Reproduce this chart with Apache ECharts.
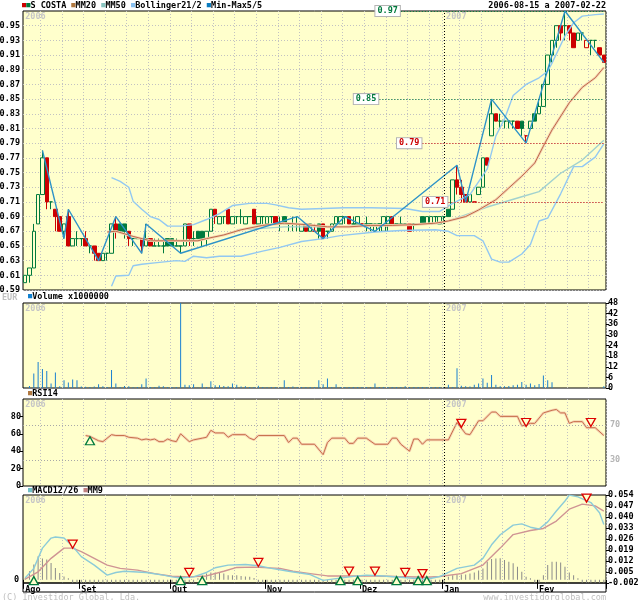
<!DOCTYPE html>
<html><head><meta charset="utf-8">
<script src="https://cdn.jsdelivr.net/npm/echarts@6/dist/echarts.min.js"></script>
<style>html,body{margin:0;padding:0;background:#fff}#c{width:640px;height:600px}</style>
</head><body><div id="c"></div>
<script>
// ---- trading days (day-of-month per month) ----
const augDays = [15,16,17,18,21,22,23,24,25,28,29,30,31];
const sepDays = [1,4,5,6,7,8,11,12,13,14,15,18,19,20,21,22,25,26,27,28,29];
const octDays = [2,3,4,5,6,9,10,11,12,13,16,17,18,19,20,23,24,25,26,27,30,31];
const novDays = [1,2,3,6,7,8,9,10,13,14,15,16,17,20,21,22,23,24,27,28,29,30];
const decDays = [1,4,5,6,7,8,11,12,13,14,15,18,19,20,21,22,27,28,29];
const janDays = [2,3,4,5,8,9,10,11,12,15,16,17,18,19,22,23,24,25,26,29,30,31];
const febDays = [1,2,5,6,7,8,9,12,13,14,15,16,19,20,21,22];
const monthNames = ['Jan','Fev','Mar','Abr','Mai','Jun','Jul','Ago','Set','Out','Nov','Dez'];

// ---- prices ----
const opens = [.60,.61,.62,.68,.72,.77,.71,.70,.69,.67, .69,.65,.66,.66,.66,.65,.65,.64,.63,.64,
 .64,.68,.68,.68,.67,.66,.66,.66,.65,.66, .65,.65,.65,.66,.66,.65,.65,.65,.68,.66,
 .67,.67,.66,.67,.70,.68,.69,.70,.68,.69, .69,.68,.69,.70,.68,.69,.68,.69,.69,.68,
 .69,.68,.68,.68,.67,.68,.67,.67,.68,.68, .67,.67,.68,.68,.69,.69,.68,.68,.68,.68,
 .68,.67,.68,.67,.68,.69,.68,.68,.68,.68, .68,.68,.69,.68,.68,.69,.68,.69,.70,.70,
 .74,.73,.72,.71,.71,.72,.73,.77,.80,.83, .82,.82,.82,.82,.82,.82,.80,.81,.83,.83,
 .84,.87,.91,.93,.95,.95,.95,.94,.93,.94, .92,.93,.93,.92,.91];
const closes = [.61,.62,.67,.72,.77,.71,.71,.69,.67,.68, .65,.66,.66,.66,.65,.65,.64,.63,.64,.64,
 .68,.67,.67,.67,.66,.66,.66,.65,.66,.65, .65,.65,.65,.65,.65,.65,.65,.68,.66,.66,
 .66,.66,.67,.70,.69,.69,.69,.68,.69,.69, .69,.69,.69,.68,.69,.69,.69,.69,.68,.68,
 .68,.68,.68,.68,.68,.67,.68,.67,.67,.66, .67,.68,.69,.69,.69,.68,.68,.69,.68,.68,
 .68,.68,.68,.69,.69,.68,.68,.68,.68,.67, .68,.68,.68,.69,.69,.69,.69,.69,.69,.74,
 .73,.72,.71,.72,.71,.73,.77,.76,.83,.82, .82,.82,.82,.82,.81,.81,.80,.82,.82,.84,
 .87,.91,.93,.95,.94,.95,.94,.92,.94,.94, .93,.93,.93,.91,.90];
const lows = [.60,.60,.62,.68,.72,.70,.70,.67,.67,.66, .65,.65,.65,.65,.65,.64,.63,.63,.63,.63,
 .64,.66,.67,.66,.65,.65,.66,.64,.65,.65, .65,.65,.64,.65,.65,.65,.64,.65,.65,.65,
 .66,.65,.65,.67,.68,.68,.68,.68,.68,.68, .68,.68,.69,.68,.68,.68,.68,.68,.68,.67,
 .68,.67,.67,.67,.67,.67,.67,.67,.66,.66, .66,.67,.68,.68,.68,.68,.68,.68,.68,.67,
 .67,.67,.67,.67,.67,.68,.68,.68,.68,.67, .67,.68,.68,.68,.68,.68,.68,.68,.69,.70,
 .72,.71,.71,.71,.71,.72,.73,.76,.80,.82, .81,.81,.81,.81,.81,.80,.79,.81,.82,.83,
 .84,.87,.90,.92,.93,.93,.93,.92,.93,.93, .92,.91,.92,.91,.90];
const highs = [.61,.62,.68,.72,.78,.77,.71,.70,.69,.68, .70,.66,.67,.66,.67,.65,.65,.64,.64,.64,
 .68,.69,.68,.68,.67,.66,.66,.66,.68,.66, .66,.66,.66,.66,.66,.66,.65,.68,.68,.67,
 .67,.67,.67,.70,.70,.69,.69,.70,.69,.69, .70,.69,.69,.70,.69,.69,.69,.69,.69,.69,
 .69,.68,.69,.69,.68,.68,.68,.68,.68,.68, .67,.68,.69,.69,.69,.69,.69,.69,.68,.69,
 .68,.68,.68,.69,.69,.69,.68,.69,.68,.68, .68,.68,.69,.69,.69,.69,.69,.69,.70,.74,
 .76,.74,.72,.72,.71,.73,.77,.77,.85,.83, .83,.82,.82,.82,.82,.82,.80,.82,.83,.85,
 .87,.91,.93,.95,.95,.97,.95,.94,.94,.94, .93,.93,.93,.92,.91];
const priceTicks = [0.59,0.61,0.63,0.65,0.67,0.69,0.71,0.73,0.75,0.77,0.79,0.81,0.83,0.85,0.87,0.89,0.91,0.93,0.95];

// ---- overlays: [day index, value] ----
const mm20Pts = [[19,.669],[21,.670],[25,.663],[29,.657],[32,.657],[36,.657],[40,.657],[42,.660],[46,.665],[50,.672],[55,.678],[60,.681],[65,.679],[70,.676],[75,.676],[80,.678],[85,.678],[90,.679],[95,.681],[98,.684],[102,.690],[105,.699],[109,.713],[112,.729],[115,.745],[118,.763],[120,.786],[122,.808],[126,.845],[129,.866],[132,.879],[134,.893]];
const mm50Pts = [[49,.672],[55,.674],[60,.676],[70,.676],[80,.677],[90,.679],[96,.681],[99,.686],[107,.703],[115,.717],[119,.724],[124,.749],[129,.767],[134,.794]];
const bollUpPts = [[20,.743],[22,.738],[24,.730],[25,.711],[27,.700],[29,.690],[31,.686],[33,.677],[36,.677],[39,.679],[42,.686],[45,.694],[48,.705],[52,.708],[56,.708],[58,.706],[61,.702],[64,.700],[69,.701],[74,.702],[80,.702],[88,.701],[92,.697],[96,.697],[99,.708],[103,.720],[107,.755],[109,.800],[111,.823],[113,.855],[116,.870],[119,.879],[121,.888],[122,.899],[125,.936],[127,.954],[129,.963],[132,.965],[134,.966]];
const bollLoPts = [[20,.595],[21,.609],[24,.610],[25,.623],[27,.625],[30,.627],[35,.630],[37,.629],[39,.636],[42,.634],[45,.636],[50,.636],[55,.643],[59,.648],[64,.656],[69,.660],[73,.664],[81,.669],[87,.671],[95,.672],[98,.670],[100,.664],[104,.664],[106,.657],[108,.632],[110,.628],[112,.628],[115,.639],[117,.652],[119,.684],[121,.688],[124,.721],[127,.758],[129,.758],[132,.771],[134,.789]];
const zigzagPts = [[4,.78],[9,.66],[10,.70],[17,.63],[21,.69],[27,.64],[28,.68],[36,.64],[63,.69],[69,.66],[74,.69],[81,.67],[100,.76],[102,.71],[108,.85],[116,.79],[125,.97],[134,.90]];

// ---- volume (millions) ----
const volumes = [0.3,1.1,8.2,14.7,10.7,9.6,2.5,8.8,1.0,4.4, 3.1,4.8,4.4,0.8,0.7,0.6,0.9,2.1,1.0,0.5,
 10.1,2.5,0.5,1.1,1.0,0.4,0.5,2.1,5.4,0.5, 0.5,1.3,1.0,0.6,0.5,0.5,48,1.9,1.5,2.1,
 0.3,2.5,0.5,3.8,1.5,1.5,1.1,1.0,2.5,1.9, 0.8,1.0,0.5,0.5,1.3,0.5,0.4,0.5,0.5,0.4,
 4.4,0.5,0.8,0.5,0.5,0.5,0.6,0.5,4.4,2.1, 5.4,0.5,2.1,0.5,0.5,0.6,0.5,0.6,0.5,0.5,
 0.5,2.5,0.5,0.6,0.5,0.6,0.5,0.5,1.0,0.5, 0.6,0.5,0.5,0.6,0.5,0.5,0.5,0.5,1.9,0.5,
 11.1,1.3,1.0,0.8,1.9,2.5,5.4,2.9,7.3,1.9, 1.0,1.0,1.1,1.5,1.9,3.4,1.9,2.5,1.5,2.3,
 7.1,4.4,3.3,0,0,0,0,0,0,0, 0,0,0,0,1.0];

// ---- RSI14 ----
const rsiPts = [[14,58],[15,57],[17,52],[18,51],[20,59],[21,58],[23,58],[24,56],[26,55],[27,53],[28,54],[29,53],[30,54],[31,51],[32,51],[33,54],[34,52],[35,51],[36,60],[38,51],[39,53],[41,55],[42,56],[43,64],[44,61],[46,61],[47,56],[48,59],[51,59],[52,55],[53,53],[54,58],[60,58],[61,50],[62,55],[63,55],[64,48],[67,48],[69,36],[70,50],[71,55],[74,55],[75,49],[76,49],[77,55],[79,55],[81,48],[84,48],[85,55],[86,55],[87,48],[89,40],[90,54],[91,54],[92,48],[93,53],[98,53],[100,73],[102,60],[103,59],[105,75],[106,75],[108,85],[109,85],[110,80],[114,80],[115,69],[117,72],[118,72],[120,84],[122,87],[123,88],[124,84],[125,84],[126,72],[127,74],[129,74],[130,67],[132,67],[134,58]];
const rsiTicks = [0,20,40,60,80];
const rsiBuy = [[15,52]];
const rsiSell = [[101,72],[116,73],[131,73]];

// ---- MACD 12/26 and MM9 ----
const macdPts = [[0,.0012],[2,.0073],[4,.0202],[6,.0266],[7,.0273],[9,.0266],[11,.0213],[13,.0148],[16,.0094],[19,.0030],[21,.0047],[23,.0055],[28,.0047],[32,.0030],[34,.0019],[36,.0012],[39,.0019],[42,.0047],[44,.0077],[47,.0094],[51,.0098],[54,.0090],[57,.0073],[61,.0055],[66,.0034],[69,-.0003],[72,.0008],[77,.0025],[79,.0030],[83,.0025],[89,.0012],[93,.0004],[96,.0021],[98,.0047],[100,.0073],[104,.0094],[106,.0137],[108,.0223],[110,.0287],[113,.0348],[115,.0356],[117,.0335],[119,.0324],[121,.0369],[123,.0438],[125,.0502],[126,.0539],[128,.0528],[131,.0492],[133,.0427],[134,.0352]];
const signalPts = [[0,.0004],[3,.0051],[6,.0137],[9,.0202],[11,.0202],[13,.0180],[16,.0137],[19,.0094],[22,.0073],[26,.0062],[30,.0040],[34,.0023],[38,.0019],[42,.0025],[46,.0055],[49,.0079],[53,.0081],[59,.0073],[62,.0055],[66,.0040],[70,.0025],[76,.0025],[81,.0025],[86,.0021],[93,.0017],[96,.0021],[101,.0040],[106,.0094],[110,.0202],[113,.0288],[117,.0314],[120,.0327],[123,.0374],[126,.0450],[129,.0482],[132,.0471],[134,.0438]];
const histogram = [0.0010,0.0054,0.0097,0.0150,0.0136,0.0129,0.0108,0.0075,0.0043,0.0022,
 0.0010,-0.0018,-0.0018,-0.0018,-0.0018,-0.0018,-0.0018,-0.0018,-0.0018,-0.0018,
 -0.0018,-0.0018,-0.0018,-0.0018,-0.0018,-0.0018,-0.0018,-0.0018,-0.0018,-0.0018,
 -0.0018,-0.0018,-0.0018,-0.0018,-0.0018,-0.0018,-0.0018,-0.0018,-0.0018,-0.0018,
 0.0010,0.0025,0.0040,0.0047,0.0047,0.0047,0.0040,0.0030,0.0030,0.0030,
 0.0025,0.0022,0.0019,0.0012,-0.0018,-0.0018,-0.0018,-0.0018,-0.0018,-0.0018,
 -0.0018,-0.0018,-0.0018,-0.0018,-0.0018,-0.0018,-0.0018,-0.0018,-0.0018,-0.0018,
 -0.0018,-0.0018,-0.0018,-0.0018,-0.0018,-0.0018,-0.0018,-0.0018,-0.0018,-0.0018,
 -0.0018,-0.0018,-0.0018,-0.0018,-0.0018,-0.0018,-0.0018,-0.0018,-0.0018,-0.0018,
 -0.0018,-0.0018,-0.0018,-0.0018,-0.0018,-0.0018,-0.0018,-0.0018,0.0020,0.0030,
 0.0034,0.0034,0.0034,0.0040,0.0047,0.0060,0.0073,0.0115,0.0133,0.0136,
 0.0137,0.0126,0.0115,0.0105,0.0083,0.0051,0.0019,0.0010,-0.0018,-0.0018,
 0.0030,0.0094,0.0115,0.0115,0.0111,0.0083,0.0047,0.0030,0.0010,-0.0018,
 -0.0018,-0.0018,-0.0018,-0.0018,-0.0018];
const macdTicks = [-0.002,0.005,0.012,0.019,0.026,0.033,0.040,0.047,0.054];
const macdBuy = [[2,-0.0005],[36,-0.0005],[41,-0.0005],[73,-0.0005],[77,-0.0005],[86,-0.0005],[91,-0.0005],[93,-0.0005]];
const macdSell = [[11,.0227],[38,.0047],[54,.0111],[75,.0055],[81,.0055],[88,.0047],[92,.0040],[130,.0520]];

// ---------- build ----------
const monthBlocks = [[2006,8,augDays],[2006,9,sepDays],[2006,10,octDays],[2006,11,novDays],[2006,12,decDays],[2007,1,janDays],[2007,2,febDays]];
const cats = [], dows = [], mons = [];
monthBlocks.forEach(([y,m,days]) => days.forEach(d => {
  cats.push(y + '-' + String(m).padStart(2,'0') + '-' + String(d).padStart(2,'0'));
  dows.push(new Date(y, m-1, d).getDay()); mons.push(m);
}));
const monthStart = cats.map((_, i) => i === 0 || mons[i] !== mons[i-1]);
const vLine = cats.map((_, i) => i > 0 && dows[i] < dows[i-1]);
const JAN_IDX = cats.indexOf('2007-01-02');

const BG = '#ffffcc', GREEN = '#007a3d', RED = '#cc0000';
const FONT = 'DejaVu Sans Mono';
const T = (extra) => Object.assign({fontFamily: FONT, fontSize: 8.5, fontWeight: 'bold', color: '#000'}, extra || {});

const candleData = cats.map((_, i) => {
  const o = opens[i], c = closes[i], l = lows[i], h = highs[i];
  const prev = i > 0 ? closes[i-1] : o;
  const col = c >= prev ? GREEN : RED;
  const fill = c < o ? col : BG;
  return {value: [o, c, l, h], itemStyle: {color: fill, color0: fill, borderColor: col, borderColor0: col, borderWidth: 1}};
});

const GRID = {left: 23, right: 34};
const grids = [
  Object.assign({top: 11, height: 279}, GRID),
  Object.assign({top: 303, height: 85}, GRID),
  Object.assign({top: 399, height: 87}, GRID),
  Object.assign({top: 495, height: 88}, GRID)
].map(g => Object.assign(g, {show: true, backgroundColor: BG, borderColor: '#000', borderWidth: 1, outerBoundsMode: 'none', containLabel: false}));

function xa(gi, labels) {
  return {
    type: 'category', gridIndex: gi, data: cats, boundaryGap: true,
    axisLine: {show: false},
    axisTick: labels ? {show: true, interval: (i) => monthStart[i], length: 9, lineStyle: {color: '#000', width: 1}} : {show: false},
    axisLabel: labels ? T({show: true, interval: (i) => monthStart[i], formatter: (v) => monthNames[+v.slice(5,7) - 1], align: 'left', margin: 2}) : {show: false},
    splitLine: {show: true, interval: (i) => vLine[i], lineStyle: {color: '#c2c2c2', type: [1, 2], width: 1}}
  };
}
const janLine = {silent: true, symbol: 'none', animation: false, label: {show: false},
  lineStyle: {color: '#000', type: [1, 2], width: 1}, data: [{xAxis: cats[JAN_IDX]}]};

function level(v, from, col) {
  return [{coord: [cats[from], v], lineStyle: {color: col, type: [1, 2], width: 1},
    label: T({show: true, position: 'start', formatter: v.toFixed(2), color: col, backgroundColor: '#fff',
      borderColor: '#b4b4b4', borderWidth: 1, padding: [1, 2, 0, 2], distance: 1})},
    {coord: [cats[cats.length - 1], v]}];
}
const triUp = (pts, col) => pts.map(p => ({coord: [cats[p[0]], p[1]], symbol: 'triangle', symbolRotate: 0,
  itemStyle: {color: BG, borderColor: col, borderWidth: 1.3}}));
const triDn = (pts, col) => pts.map(p => ({coord: [cats[p[0]], p[1]], symbol: 'triangle', symbolRotate: 180,
  itemStyle: {color: BG, borderColor: col, borderWidth: 1.3}}));

const line = (name, xi, yi, data, color, width, extra) => Object.assign({
  name, type: 'line', xAxisIndex: xi, yAxisIndex: yi, data, showSymbol: false, symbol: 'none',
  lineStyle: {color, width}, silent: true, animation: false
}, extra || {});

const option = {
  animation: false,
  grid: grids,
  xAxis: [xa(0, false), xa(1, false), xa(2, false), xa(3, true)],
  yAxis: [
    {type: 'value', gridIndex: 0, min: 0.59, max: 0.97, position: 'left',
      axisLine: {show: false}, axisTick: {show: false, customValues: priceTicks},
      axisLabel: T({customValues: priceTicks, formatter: (v) => v.toFixed(2), margin: 3}),
      splitLine: {show: true, lineStyle: {color: '#c2c2c2', type: [1, 2], width: 1}}},
    {type: 'value', gridIndex: 1, min: 0, max: 48, interval: 6, position: 'right',
      axisLine: {show: false}, axisTick: {show: true, length: 3, lineStyle: {color: '#000'}},
      axisLabel: T({margin: 2}), splitLine: {show: false}},
    {type: 'value', gridIndex: 2, min: 0, max: 100, position: 'left',
      axisLine: {show: false}, axisTick: {show: true, length: 3, customValues: rsiTicks, lineStyle: {color: '#000'}},
      axisLabel: T({customValues: rsiTicks, margin: 2}), splitLine: {show: false}},
    {type: 'value', gridIndex: 3, min: -0.002, max: 0.054, position: 'right',
      axisLine: {show: false}, axisTick: {show: true, length: 3, customValues: macdTicks, lineStyle: {color: '#000'}},
      axisLabel: T({customValues: macdTicks, formatter: (v) => v.toFixed(3), margin: 2}), splitLine: {show: false}},
    {type: 'value', gridIndex: 3, min: -0.002, max: 0.054, position: 'left',
      axisLine: {show: false}, axisTick: {show: false, customValues: [0]},
      axisLabel: T({customValues: [0], formatter: () => '0', margin: 4}), splitLine: {show: false}}
  ],
  series: [
    line('BollUp', 0, 0, bollUpPts, '#92c8f2', 1.4),
    line('BollLo', 0, 0, bollLoPts, '#92c8f2', 1.4),
    line('MM50', 0, 0, mm50Pts, '#a2d2ce', 1.4),
    line('MM20halo', 0, 0, mm20Pts, '#f5d4b4', 2.6),
    line('MM20', 0, 0, mm20Pts, '#bd6a48', 1),
    {name: 'S COSTA', type: 'candlestick', xAxisIndex: 0, yAxisIndex: 0, data: candleData, barWidth: 4, silent: true, animation: false,
      markLine: {silent: true, symbol: 'none', animation: false, data: [
        {xAxis: cats[JAN_IDX], lineStyle: {color: '#000', type: [1, 2], width: 1}, label: {show: false}},
        level(0.97, 87, GREEN), level(0.85, 82, GREEN), level(0.79, 92, RED), level(0.71, 98, RED)
      ]}},
    line('Min-Max', 0, 0, zigzagPts, '#2e93c8', 1.4),
    {name: 'Volume', type: 'bar', xAxisIndex: 1, yAxisIndex: 1, data: volumes, barWidth: 1,
      itemStyle: {color: '#1a80d0'}, silent: true, animation: false, markLine: janLine},
    line('RSIhalo', 2, 2, rsiPts, '#f6d6b4', 2.6),
    line('RSI14', 2, 2, rsiPts, '#c8704c', 1, {
      markLine: {silent: true, symbol: 'none', animation: false, data: [
        {yAxis: 70, lineStyle: {color: '#a8a8a8', type: [1, 2], width: 1}, label: T({show: true, position: 'end', formatter: '70', color: '#b4b4b4', distance: 4})},
        {yAxis: 30, lineStyle: {color: '#a8a8a8', type: [1, 2], width: 1}, label: T({show: true, position: 'end', formatter: '30', color: '#b4b4b4', distance: 4})},
        {xAxis: cats[JAN_IDX], lineStyle: {color: '#000', type: [1, 2], width: 1}, label: {show: false}}
      ]},
      markPoint: {silent: true, animation: false, symbolSize: [9, 8], label: {show: false},
        data: triUp(rsiBuy, GREEN).concat(triDn(rsiSell, '#dd0000'))}
    }),
    {name: 'Hist', type: 'bar', xAxisIndex: 3, yAxisIndex: 3, data: histogram, barWidth: 1,
      itemStyle: {color: '#8a8a8a'}, silent: true, animation: false, markLine: janLine},
    line('MM9', 3, 3, signalPts, '#cf9494', 1.4),
    line('MACD', 3, 3, macdPts, '#8ccbd8', 1.4, {
      markPoint: {silent: true, animation: false, symbolSize: [9, 8], label: {show: false},
        data: triUp(macdBuy, GREEN).concat(triDn(macdSell, '#dd0000'))}
    })
  ]
};

const chart = echarts.init(document.getElementById('c'), null, {renderer: 'canvas'});
chart.setOption(option);

const x2007 = chart.convertToPixel({xAxisIndex: 0}, cats[JAN_IDX]);
const x2006 = chart.convertToPixel({xAxisIndex: 0}, cats[0]);
const sq = (c) => ({fill: c, color: c, fontFamily: FONT, fontSize: 7});
const tx = {fill: '#000', color: '#000', fontFamily: FONT, fontSize: 8.5, fontWeight: 'bold'};
const gtext = (x, y, text, style) => ({type: 'text', x, y, silent: true, style: Object.assign({text, fontFamily: FONT, fontSize: 8.5, fontWeight: 'bold', fill: '#000'}, style || {})});
const wm = [];
[12, 304, 400, 496].forEach(y => {
  wm.push(gtext(x2006, y, '2006', {fill: '#c6c6c6'}));
  wm.push(gtext(x2007 + 2, y, '2007', {fill: '#c6c6c6'}));
});
chart.setOption({graphic: wm.concat([
  gtext(22, 1, '{r|■}{g|■}{t|S COSTA }{a|■}{t|MM20 }{b|■}{t|MM50 }{c|■}{t|Bollinger21/2 }{d|■}{t|Min-Max5/5}',
    {rich: {r: sq(RED), g: sq(GREEN), a: sq('#b07840'), b: sq('#88c4c0'), c: sq('#88c0f0'), d: sq('#0a7cc0'), t: tx}}),
  gtext(606, 1, '2006-08-15 a 2007-02-22', {align: 'right', textAlign: 'right'}),
  gtext(2, 293, 'EUR', {fill: '#c0c0c0'}),
  gtext(28, 292, '{s|■}{t|Volume x1000000}', {rich: {s: sq('#1080d0'), t: tx}}),
  gtext(28, 389, '{s|■}{t|RSI14}', {rich: {s: sq('#b07840'), t: tx}}),
  gtext(28, 486, '{s|■}{t|MACD12/26 }{m|■}{t|MM9}', {rich: {s: sq('#70c0c8'), m: sq('#c08080'), t: tx}}),
  {type: 'rect', silent: true, shape: {x: 23, y: 583, width: 583, height: 9}, style: {fill: 'none', stroke: '#000', lineWidth: 1}},
  gtext(2, 593, '(C) Investidor Global, Lda.', {fill: '#c0c0c0', fontWeight: 'normal'}),
  gtext(606, 593, 'www.investidorglobal.com', {fill: '#c0c0c0', fontWeight: 'normal', align: 'right', textAlign: 'right'})
])});
</script>
</body></html>
